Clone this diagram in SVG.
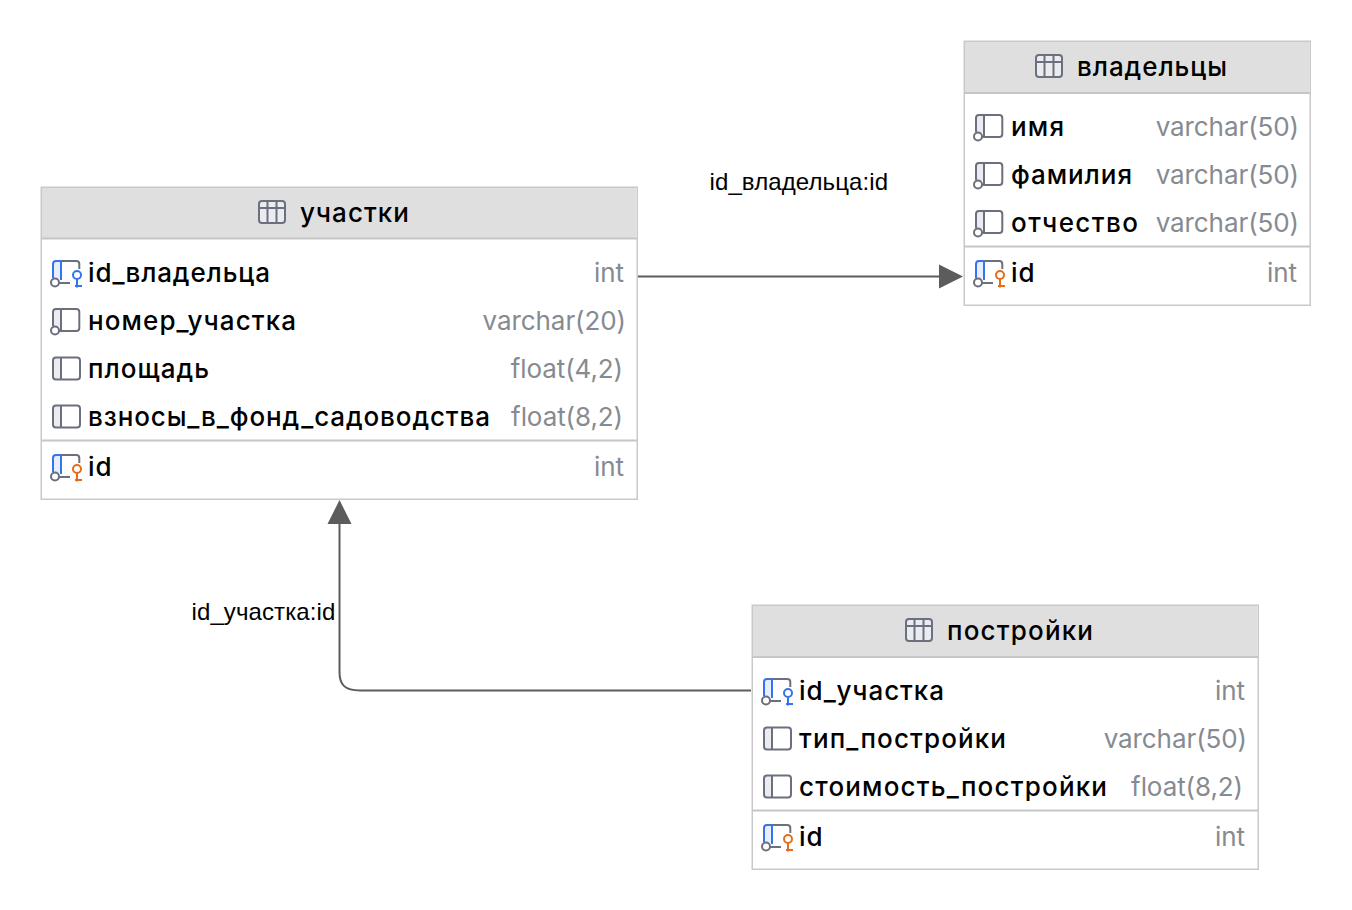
<svg xmlns="http://www.w3.org/2000/svg" width="1352" height="910" viewBox="0 0 1352 910">
<style>
text{font-family:Inter,"Noto Sans",sans-serif}
.box{fill:#fff;stroke:#c9c9c9;stroke-width:1.5}
.hd{fill:#dfdfdf}
.ln{stroke:#c6c6c6;stroke-width:2;fill:none}
.t{font-size:26px;font-weight:500;fill:#000}
.n{font-size:26px;font-weight:500;fill:#000}
.y{font-size:26px;fill:#868a91;text-anchor:end;letter-spacing:-.08px}
.l{font-family:"Liberation Sans",Arial,sans-serif;font-size:24px;fill:#000;letter-spacing:.1px}
.c{fill:none;stroke:#5c5c5c;stroke-width:2}
.g{fill:none;stroke:#6c707e;stroke-width:2}
.b{fill:none;stroke:#3574f0;stroke-width:2}
.o{fill:none;stroke:#e66d17;stroke-width:2}
.f{fill:#ebecf0}
.fb{fill:#e7effd}
</style>
<defs>
<g id="tbl"><rect class="f" x="1" y="0" width="26" height="22" rx="3"/><rect class="g" x="1" y="0" width="26" height="22" rx="3"/><path class="g" d="M1 7H27M9.500 0V22M18.500 0V22"/></g>
<g id="col"><path class="f" d="M1 3a2 2 0 0 1 2-2h6v21H3a2 2 0 0 1-2-2z"/><rect class="g" x="1" y="0.500" width="27" height="22" rx="3"/><path class="g" d="M9 0.500V22.500"/></g>
<g id="colnn"><path class="f" d="M2 3a2 2 0 0 1 2-2h6v18H2z"/><path class="g" d="M2 18V4a3 3 0 0 1 3-3h20.300a3 3 0 0 1 3 3v16a3 3 0 0 1-3 3H8M10 1V22"/><circle cx="4" cy="22.500" r="4" fill="#fff" stroke="#6c707e" stroke-width="2"/></g>
<g id="fk"><path class="fb" d="M2 3a2 2 0 0 1 2-2h6v18H2z"/><path class="g" d="M10 1H25.300a3 3 0 0 1 3 3V9M8 23H19"/><path class="b" d="M2 18V4a3 3 0 0 1 3-3h5M10 1V20"/><circle cx="4" cy="22.500" r="4" fill="#fff" stroke="#6c707e" stroke-width="2"/><circle cx="26" cy="15" r="4" fill="#fff" stroke="#3574f0" stroke-width="2"/><path class="b" d="M26 19V27.500M24 26H31"/></g>
<g id="pk"><path class="fb" d="M2 3a2 2 0 0 1 2-2h6v18H2z"/><path class="g" d="M10 1H25.300a3 3 0 0 1 3 3V9M8 23H19"/><path class="b" d="M2 18V4a3 3 0 0 1 3-3h5M10 1V20"/><circle cx="4" cy="22.500" r="4" fill="#fff" stroke="#6c707e" stroke-width="2"/><circle cx="26" cy="15" r="4" fill="#fff" stroke="#e66d17" stroke-width="2"/><path class="o" d="M26 19V27.500M24 26H31"/></g>
</defs>

<g id="connectors">
<path class="c" d="M637 276.500H942"/>
<path fill="#5c5c5c" d="M939 264.500L963 276.500L939 288.500Z"/>
<path class="c" d="M339.500 522V672C339.500 685 345 690.500 360 690.500H751"/>
<path fill="#5c5c5c" d="M327.500 524L339.500 500L351.500 524Z"/>
<text class="l" x="709.500" y="190">id_владельца:id</text>
<text class="l" x="191.500" y="620">id_участка:id</text>
</g>

<g id="uchastki">
<rect class="box" x="41.250" y="187.250" width="596" height="312"/>
<rect class="hd" x="42" y="188" width="594.500" height="50"/>
<path class="ln" d="M41 238.500H637M41 440.500H637"/>
<use href="#tbl" x="258" y="201"/>
<text class="t" x="300" y="222" textLength="109">участки</text>
<use href="#fk" x="51" y="260"/>
<text class="n" x="88" y="282" textLength="182">id_владельца</text><text class="y" x="624" y="282">int</text>
<use href="#colnn" x="51" y="308"/>
<text class="n" x="88" y="330" textLength="208">номер_участка</text><text class="y" x="626" y="330">varchar(20)</text>
<use href="#col" x="52" y="357"/>
<text class="n" x="88" y="378" textLength="121">площадь</text><text class="y" x="623" y="378">float(4,2)</text>
<use href="#col" x="52" y="405"/>
<text class="n" x="88" y="426" textLength="402">взносы_в_фонд_садоводства</text><text class="y" x="623" y="426">float(8,2)</text>
<use href="#pk" x="51" y="454"/>
<text class="n" x="88" y="476" textLength="23.500">id</text><text class="y" x="624" y="476">int</text>
</g>

<g id="vladeltsy">
<rect class="box" x="964.250" y="41.250" width="346" height="264"/>
<rect class="hd" x="965" y="42" width="344.500" height="50"/>
<path class="ln" d="M964 93H1310M964 246.500H1310"/>
<use href="#tbl" x="1035" y="55"/>
<text class="t" x="1077" y="76" textLength="150">владельцы</text>
<use href="#colnn" x="974" y="114"/>
<text class="n" x="1011" y="136" textLength="53">имя</text><text class="y" x="1299" y="136">varchar(50)</text>
<use href="#colnn" x="974" y="162"/>
<text class="n" x="1011" y="184" textLength="121">фамилия</text><text class="y" x="1299" y="184">varchar(50)</text>
<use href="#colnn" x="974" y="210"/>
<text class="n" x="1011" y="232" textLength="127">отчество</text><text class="y" x="1299" y="232">varchar(50)</text>
<use href="#pk" x="974" y="260"/>
<text class="n" x="1011" y="282" textLength="23.500">id</text><text class="y" x="1297" y="282">int</text>
</g>

<g id="postroyki">
<rect class="box" x="752.250" y="605.250" width="506" height="264"/>
<rect class="hd" x="753" y="606" width="504.500" height="50"/>
<path class="ln" d="M752 657H1258M752 810.500H1258"/>
<use href="#tbl" x="905" y="619"/>
<text class="t" x="947" y="640" textLength="146">постройки</text>
<use href="#fk" x="762" y="678"/>
<text class="n" x="799" y="700" textLength="145">id_участка</text><text class="y" x="1245" y="700">int</text>
<use href="#col" x="763" y="727"/>
<text class="n" x="799" y="748" textLength="207">тип_постройки</text><text class="y" x="1247" y="748">varchar(50)</text>
<use href="#col" x="763" y="775"/>
<text class="n" x="799" y="796" textLength="308">стоимость_постройки</text><text class="y" x="1243" y="796">float(8,2)</text>
<use href="#pk" x="762" y="824"/>
<text class="n" x="799" y="846" textLength="23.500">id</text><text class="y" x="1245" y="846">int</text>
</g>
</svg>
